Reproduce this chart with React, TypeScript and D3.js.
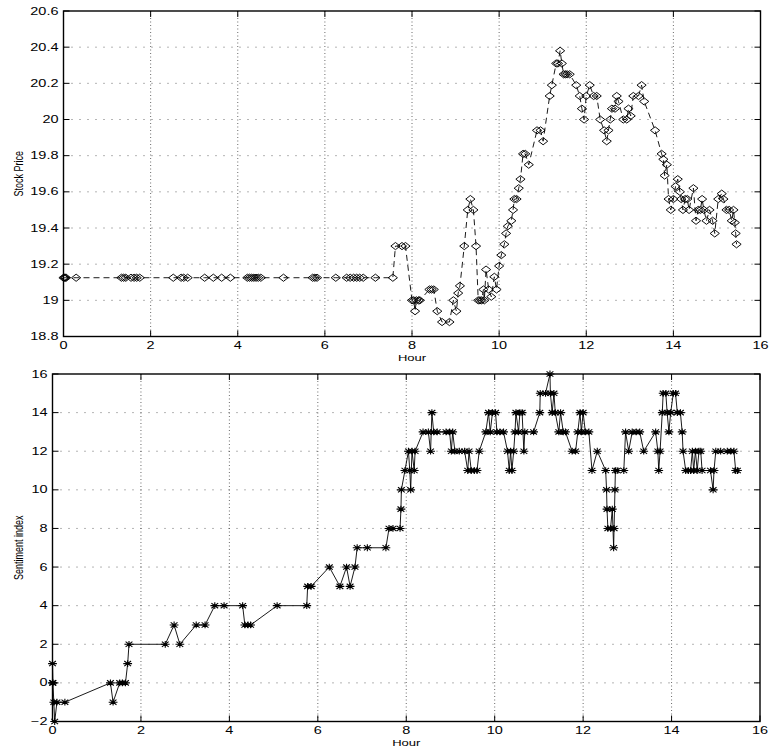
import React, { useEffect, useRef } from 'react';
import * as d3 from 'd3';

// stock price (top panel)
const priceHours = [
  0.00, 0.02, 0.04, 0.06, 0.29, 1.33, 1.38, 1.43, 1.55, 1.62, 1.68, 1.75, 2.52, 2.70, 2.76, 2.85,
  3.24, 3.44, 3.63, 3.83, 4.22, 4.27, 4.32, 4.37, 4.42, 4.47, 4.53, 5.05, 5.72, 5.77, 5.82, 6.25,
  6.50, 6.58, 6.66, 6.73, 6.80, 6.88, 7.16, 7.56, 7.62, 7.77, 7.85, 8.00, 8.04, 8.07, 8.10, 8.15,
  8.18, 8.40, 8.45, 8.50, 8.58, 8.69, 8.86, 8.95, 9.02, 9.06, 9.10, 9.20, 9.28, 9.34, 9.41, 9.47,
  9.52, 9.56, 9.60, 9.64, 9.66, 9.70, 9.76, 9.82, 9.89, 9.94, 10.00, 10.05, 10.12, 10.16, 10.20, 10.28,
  10.32, 10.35, 10.40, 10.45, 10.49, 10.55, 10.60, 10.68, 10.87, 10.95, 11.01, 11.16, 11.21, 11.31, 11.35, 11.40,
  11.44, 11.48, 11.52, 11.56, 11.62, 11.77, 11.85, 11.90, 11.95, 12.00, 12.08, 12.17, 12.24, 12.32, 12.41, 12.47,
  12.51, 12.55, 12.59, 12.66, 12.70, 12.74, 12.85, 12.93, 12.97, 13.02, 13.08, 13.20, 13.27, 13.33, 13.58, 13.73,
  13.77, 13.80, 13.85, 13.89, 13.94, 14.00, 14.05, 14.10, 14.15, 14.18, 14.22, 14.27, 14.32, 14.36, 14.46, 14.52,
  14.57, 14.62, 14.66, 14.70, 14.76, 14.83, 14.90, 14.95, 15.03, 15.11, 15.15, 15.22, 15.28, 15.34, 15.38, 15.41,
  15.43, 15.45
];
const priceValues = [
  19.125, 19.125, 19.125, 19.125, 19.125, 19.125, 19.125, 19.125, 19.125, 19.125, 19.125, 19.125, 19.125, 19.125, 19.125, 19.125,
  19.125, 19.125, 19.125, 19.125, 19.125, 19.125, 19.125, 19.125, 19.125, 19.125, 19.125, 19.125, 19.125, 19.125, 19.125, 19.125,
  19.125, 19.125, 19.125, 19.125, 19.125, 19.125, 19.125, 19.125, 19.30, 19.30, 19.30, 19.00, 19.00, 18.94, 19.00, 19.00,
  19.00, 19.06, 19.06, 19.06, 18.94, 18.88, 18.88, 19.00, 18.94, 19.04, 19.08, 19.30, 19.50, 19.56, 19.50, 19.30,
  19.00, 19.00, 19.00, 19.06, 19.00, 19.17, 19.06, 19.02, 19.13, 19.06, 19.19, 19.25, 19.31, 19.37, 19.41, 19.44,
  19.50, 19.56, 19.56, 19.62, 19.67, 19.81, 19.81, 19.75, 19.94, 19.94, 19.88, 20.13, 20.19, 20.31, 20.31, 20.38,
  20.31, 20.25, 20.25, 20.25, 20.25, 20.19, 20.13, 20.06, 20.00, 20.13, 20.19, 20.13, 20.13, 20.00, 19.94, 19.88,
  19.94, 20.00, 20.06, 20.06, 20.13, 20.10, 20.00, 20.00, 20.06, 20.02, 20.13, 20.13, 20.19, 20.10, 19.94, 19.81,
  19.78, 19.69, 19.75, 19.56, 19.50, 19.56, 19.63, 19.67, 19.60, 19.56, 19.50, 19.56, 19.56, 19.50, 19.62, 19.44,
  19.50, 19.50, 19.56, 19.50, 19.44, 19.50, 19.44, 19.37, 19.56, 19.59, 19.56, 19.50, 19.50, 19.44, 19.50, 19.43,
  19.37, 19.31
];

// sentiment index (bottom panel)
const sentHours = [
  0.00, 0.00, 0.01, 0.03, 0.05, 0.10, 0.28, 1.31, 1.37, 1.52, 1.58, 1.65, 1.70, 1.73, 2.55, 2.75,
  2.88, 3.25, 3.45, 3.67, 3.88, 4.30, 4.35, 4.42, 4.48, 5.08, 5.75, 5.77, 5.85, 6.26, 6.50, 6.65,
  6.73, 6.84, 6.89, 7.12, 7.54, 7.61, 7.70, 7.86, 7.88, 7.89, 7.97, 8.05, 8.08, 8.10, 8.13, 8.18,
  8.20, 8.38, 8.50, 8.55, 8.58, 8.62, 8.70, 8.90, 8.98, 9.02, 9.05, 9.10, 9.20, 9.32, 9.39, 9.42,
  9.47, 9.54, 9.60, 9.65, 9.80, 9.86, 9.90, 9.95, 10.02, 10.05, 10.12, 10.20, 10.29, 10.33, 10.36, 10.39,
  10.43, 10.46, 10.48, 10.54, 10.57, 10.62, 10.66, 10.68, 10.88, 11.02, 11.03, 11.15, 11.25, 11.26, 11.30, 11.34,
  11.37, 11.45, 11.49, 11.55, 11.60, 11.75, 11.83, 11.88, 11.93, 11.96, 12.00, 12.05, 12.13, 12.20, 12.32, 12.51,
  12.53, 12.54, 12.56, 12.62, 12.66, 12.69, 12.70, 12.72, 12.73, 12.77, 12.92, 12.96, 13.03, 13.11, 13.20, 13.28,
  13.37, 13.64, 13.69, 13.71, 13.74, 13.79, 13.81, 13.87, 13.90, 13.94, 13.98, 14.04, 14.09, 14.13, 14.20, 14.24,
  14.26, 14.32, 14.38, 14.43, 14.47, 14.50, 14.54, 14.58, 14.62, 14.66, 14.69, 14.88, 14.94, 14.96, 15.00, 15.11,
  15.26, 15.34, 15.41, 15.45, 15.49
];
const sentValues = [
  0, 1, 0, -1, -2, -1, -1, 0, -1, 0, 0, 0, 1, 2, 2, 3,
  2, 3, 3, 4, 4, 4, 3, 3, 3, 4, 4, 5, 5, 6, 5, 6,
  5, 6, 7, 7, 7, 8, 8, 8, 9, 10, 11, 12, 11, 10, 12, 11,
  12, 13, 13, 12, 14, 13, 13, 13, 13, 12, 13, 12, 12, 12, 11, 12,
  11, 11, 11, 12, 13, 14, 13, 14, 14, 13, 13, 13, 12, 11, 12, 11,
  12, 13, 14, 13, 14, 14, 12, 13, 13, 14, 15, 15, 16, 15, 14, 15,
  14, 13, 14, 13, 13, 12, 12, 13, 14, 13, 14, 13, 13, 11, 12, 11,
  10, 9, 8, 8, 9, 7, 8, 10, 11, 11, 11, 13, 12, 13, 13, 13,
  12, 13, 12, 11, 12, 14, 15, 15, 14, 13, 14, 15, 15, 14, 14, 13,
  12, 11, 11, 11, 12, 11, 12, 11, 12, 12, 11, 11, 10, 11, 12, 12,
  12, 12, 12, 11, 11
];

const hourTicks = [0, 2, 4, 6, 8, 10, 12, 14, 16];
const priceTicks = [18.8, 19, 19.2, 19.4, 19.6, 19.8, 20, 20.2, 20.4, 20.6];
const sentTicks = [-2, 0, 2, 4, 6, 8, 10, 12, 14, 16];

const FONT = '"Liberation Sans", Arial, Helvetica, sans-serif';
const STRETCH = 1.45;

const diamond = 'M0,-3.6L4.6,0L0,3.6L-4.6,0Z';
const asterisk = 'M-4.4,0H4.4M0,-3.4V3.4M-3.4,-2.6L3.4,2.6M-3.4,2.6L3.4,-2.6';

function drawPanel(svg, p) {
  const x = d3.scaleLinear().domain([0, 16]).range([p.left, p.right]);
  const y = d3.scaleLinear().domain(p.yDomain).range([p.bottom, p.top]);
  const g = svg.append('g');

  // grid
  hourTicks.slice(1, -1).forEach(t => {
    g.append('line')
      .attr('x1', x(t)).attr('x2', x(t)).attr('y1', p.top).attr('y2', p.bottom)
      .attr('stroke', '#444').attr('stroke-width', 0.8).attr('stroke-dasharray', '1,2.5');
  });
  p.yTicks.slice(1, -1).forEach(t => {
    g.append('line')
      .attr('x1', p.left).attr('x2', p.right).attr('y1', y(t)).attr('y2', y(t))
      .attr('stroke', '#444').attr('stroke-width', 0.8).attr('stroke-dasharray', '1,7');
  });

  // data line + markers
  const pts = p.xs.map((h, i) => [h, p.ys[i]]);
  const line = d3.line().x(d => x(d[0])).y(d => y(d[1]));
  g.append('path')
    .attr('d', line(pts))
    .attr('fill', 'none')
    .attr('stroke', '#000')
    .attr('stroke-width', 0.9)
    .attr('stroke-dasharray', p.dash || null);

  g.selectAll('.mk').data(pts).enter().append('path')
    .attr('transform', d => `translate(${x(d[0])},${y(d[1])})`)
    .attr('d', p.marker)
    .attr('fill', 'none')
    .attr('stroke', '#000')
    .attr('stroke-width', p.markerWidth);

  // frame
  g.append('rect')
    .attr('x', p.left).attr('y', p.top)
    .attr('width', p.right - p.left).attr('height', p.bottom - p.top)
    .attr('fill', 'none').attr('stroke', '#000').attr('stroke-width', 1.4);

  // ticks (inward, all four sides)
  hourTicks.forEach(t => {
    g.append('line').attr('x1', x(t)).attr('x2', x(t)).attr('y1', p.bottom).attr('y2', p.bottom - 6)
      .attr('stroke', '#000').attr('stroke-width', 1);
    g.append('line').attr('x1', x(t)).attr('x2', x(t)).attr('y1', p.top).attr('y2', p.top + 6)
      .attr('stroke', '#000').attr('stroke-width', 1);
    g.append('text')
      .attr('transform', `translate(${x(t)},${p.bottom + 12.5}) scale(${STRETCH},1)`)
      .attr('text-anchor', 'middle')
      .attr('font-family', FONT).attr('font-size', 10)
      .text(String(t));
  });
  p.yTicks.forEach(t => {
    g.append('line').attr('x1', p.left).attr('x2', p.left + 6).attr('y1', y(t)).attr('y2', y(t))
      .attr('stroke', '#000').attr('stroke-width', 1);
    g.append('line').attr('x1', p.right).attr('x2', p.right - 6).attr('y1', y(t)).attr('y2', y(t))
      .attr('stroke', '#000').attr('stroke-width', 1);
    g.append('text')
      .attr('transform', `translate(${p.left - 5},${y(t) + 3.6}) scale(${STRETCH},1)`)
      .attr('text-anchor', 'end')
      .attr('font-family', FONT).attr('font-size', 10)
      .text(p.fmt(t));
  });

  // labels
  g.append('text')
    .attr('transform', `translate(${(p.left + p.right) / 2},${p.bottom + 24.8}) scale(${STRETCH},1)`)
    .attr('text-anchor', 'middle')
    .attr('font-family', FONT).attr('font-size', 9)
    .text('Hour');
  g.append('text')
    .attr('transform', `translate(23,${(p.top + p.bottom) / 2}) scale(${STRETCH},1) rotate(-90)`)
    .attr('text-anchor', 'middle')
    .attr('font-family', FONT).attr('font-size', 9)
    .text(p.ylabel);
}

export default function App() {
  const svgRef = useRef(null);

  useEffect(() => {
    const svg = d3.select(svgRef.current);
    svg.selectAll('*').remove();

    drawPanel(svg, {
      left: 63.5, right: 760.5, top: 11, bottom: 336.5,
      yDomain: [18.8, 20.6], yTicks: priceTicks,
      fmt: d3.format('~g'),
      xs: priceHours, ys: priceValues,
      marker: diamond, markerWidth: 0.95, dash: '6,4',
      ylabel: 'Stock Price'
    });

    drawPanel(svg, {
      left: 52.5, right: 760, top: 374, bottom: 721.5,
      yDomain: [-2, 16], yTicks: sentTicks,
      fmt: t => (t < 0 ? '\u2212' + Math.abs(t) : String(t)),
      xs: sentHours, ys: sentValues,
      marker: asterisk, markerWidth: 1.1, dash: null,
      ylabel: 'Sentiment index'
    });
  }, []);

  return (
    <svg
      ref={svgRef}
      width={769}
      height={750}
      style={{ position: 'absolute', left: 0, top: 0, background: '#fff' }}
    />
  );
}
